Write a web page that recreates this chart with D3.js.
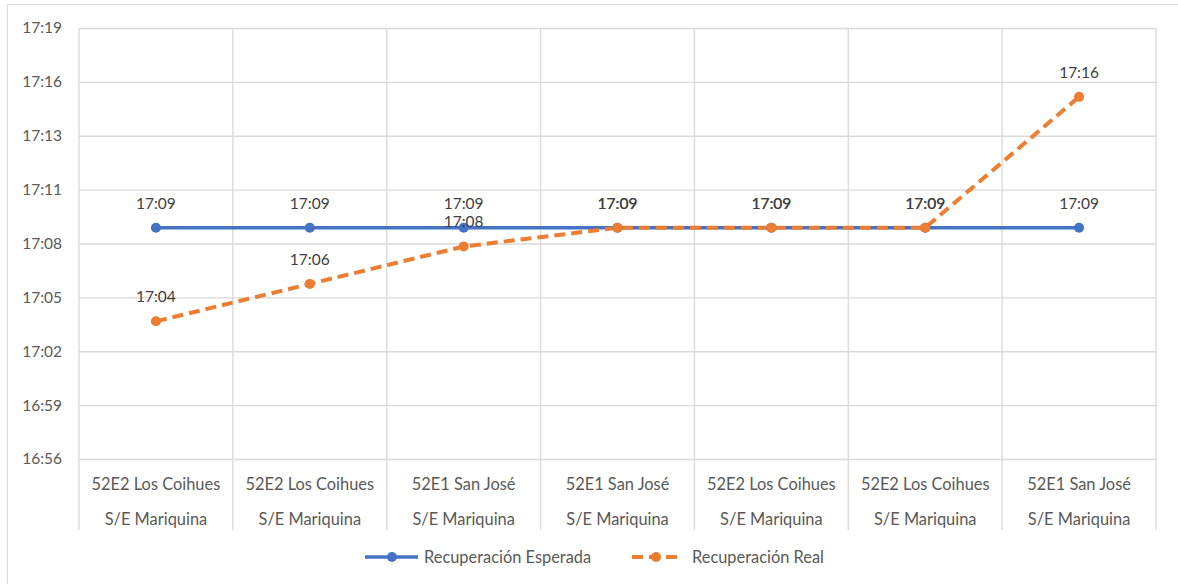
<!DOCTYPE html>
<html>
<head>
<meta charset="utf-8">
<script src="https://cdn.jsdelivr.net/npm/d3@7"></script>
<style>
  body { margin: 0; background: #fff; }
  svg text { font-family: Lato, "Open Sans", sans-serif; }
</style>
</head>
<body>
<div class="chartWrap"></div>
<script>
//Data
const categoriesTop = ["52E2 Los Coihues", "52E2 Los Coihues", "52E1 San José", "52E1 San José", "52E2 Los Coihues", "52E2 Los Coihues", "52E1 San José"];
const categoriesBottom = ["S/E Mariquina", "S/E Mariquina", "S/E Mariquina", "S/E Mariquina", "S/E Mariquina", "S/E Mariquina", "S/E Mariquina"];
const esperada = ["17:09", "17:09", "17:09", "17:09", "17:09", "17:09", "17:09"];
const real = ["17:04", "17:06", "17:08", "17:09", "17:09", "17:09", "17:16"];
const yTicks = [0.706, 0.708, 0.710, 0.712, 0.714, 0.716, 0.718, 0.720, 0.722]; //fraction of a day, Excel style
const yTickLabels = ["16:56", "16:59", "17:02", "17:05", "17:08", "17:11", "17:13", "17:16", "17:19"];
const seriesNames = ["Recuperación Esperada", "Recuperación Real"];

//Variables
let width = 1178,
    height = 584,
    plotLeft = 79,
    plotRight = 1156,
    plotTop = 28,
    plotBottom = 459,
    blue = "#4472C4",
    orange = "#ED7D31",
    grid = "#D9D9D9";

function toDay(s) { //"hh:mm" -> fraction of day
  let p = s.split(":");
  return (+p[0] * 60 + +p[1]) / 1440;
}

let canvas = d3.select(".chartWrap").append("svg").attr("width", width).attr("height", height);

//Chart border
canvas.append("rect").attr("x", 7.5).attr("y", 4.5).attr("width", 1180).attr("height", 600)
  .attr("fill", "none").attr("stroke", grid).attr("stroke-width", 1);

let xScale = d3.scaleBand().domain(d3.range(categoriesTop.length)).range([plotLeft, plotRight]).padding(0);
let yScale = d3.scaleLinear().domain([yTicks[0], yTicks[yTicks.length - 1]]).range([plotBottom, plotTop]);
let cx = function(i) { return xScale(i) + xScale.bandwidth() / 2; };

//Horizontal gridlines + y labels
let yAxis = d3.axisLeft(yScale).tickValues(yTicks).tickSize(-(plotRight - plotLeft)).tickPadding(17)
  .tickFormat(function(d, i) { return yTickLabels[i]; });
let gy = canvas.append("g").attr("transform", "translate(" + plotLeft + ",0)").call(yAxis);
gy.select(".domain").remove();
gy.selectAll("line").attr("stroke", grid).attr("stroke-width", 1.3);
gy.selectAll("text").attr("fill", "#595959").attr("font-size", 15.5);

//Vertical dividers (extend through category label area)
let edges = d3.range(categoriesTop.length + 1).map(function(i) { return plotLeft + i * xScale.bandwidth(); });
canvas.selectAll(".vline").data(edges).enter().append("line")
  .attr("x1", function(d) { return d; }).attr("x2", function(d) { return d; })
  .attr("y1", plotTop).attr("y2", 530)
  .attr("stroke", grid).attr("stroke-width", 1.3);

//Category labels
canvas.selectAll(".cat1").data(categoriesTop).enter().append("text")
  .text(function(d) { return d; })
  .attr("x", function(d, i) { return cx(i); }).attr("y", 490)
  .attr("text-anchor", "middle").attr("font-size", 16.4).attr("fill", "#595959");
canvas.selectAll(".cat2").data(categoriesBottom).enter().append("text")
  .text(function(d) { return d; })
  .attr("x", function(d, i) { return cx(i); }).attr("y", 525)
  .attr("text-anchor", "middle").attr("font-size", 16.4).attr("fill", "#595959");

//Lines
let line = d3.line().x(function(d, i) { return cx(i); }).y(function(d) { return yScale(toDay(d)); });
canvas.append("path").datum(esperada).attr("d", line)
  .attr("fill", "none").attr("stroke", blue).attr("stroke-width", 3.5);
canvas.append("path").datum(real).attr("d", line)
  .attr("fill", "none").attr("stroke", orange).attr("stroke-width", 4)
  .attr("stroke-dasharray", "11,6");

//Markers
canvas.selectAll(".dotE").data(esperada).enter().append("circle")
  .attr("cx", function(d, i) { return cx(i); }).attr("cy", function(d) { return yScale(toDay(d)); })
  .attr("r", 5).attr("fill", blue);
canvas.selectAll(".dotR").data(real).enter().append("circle")
  .attr("cx", function(d, i) { return cx(i); }).attr("cy", function(d) { return yScale(toDay(d)); })
  .attr("r", 5).attr("fill", orange);

//Data labels
[esperada, real].forEach(function(series) {
  canvas.append("g").selectAll("text").data(series).enter().append("text")
    .text(function(d) { return d; })
    .attr("x", function(d, i) { return cx(i); })
    .attr("y", function(d) { return yScale(toDay(d)) - 19; })
    .attr("text-anchor", "middle").attr("font-size", 15.5).attr("fill", "#404040");
});

//Legend
let legend = canvas.append("g");
legend.append("line").attr("x1", 365).attr("x2", 418).attr("y1", 557).attr("y2", 557)
  .attr("stroke", blue).attr("stroke-width", 3.5);
legend.append("circle").attr("cx", 392).attr("cy", 557).attr("r", 5).attr("fill", blue);
legend.append("text").text(seriesNames[0]).attr("x", 424).attr("y", 563)
  .attr("font-size", 16.4).attr("fill", "#595959");
legend.append("line").attr("x1", 632).attr("x2", 681).attr("y1", 557).attr("y2", 557)
  .attr("stroke", orange).attr("stroke-width", 4).attr("stroke-dasharray", "11,6");
legend.append("circle").attr("cx", 656).attr("cy", 557).attr("r", 5).attr("fill", orange);
legend.append("text").text(seriesNames[1]).attr("x", 692).attr("y", 563)
  .attr("font-size", 16.4).attr("fill", "#595959");
</script>
</body>
</html>
